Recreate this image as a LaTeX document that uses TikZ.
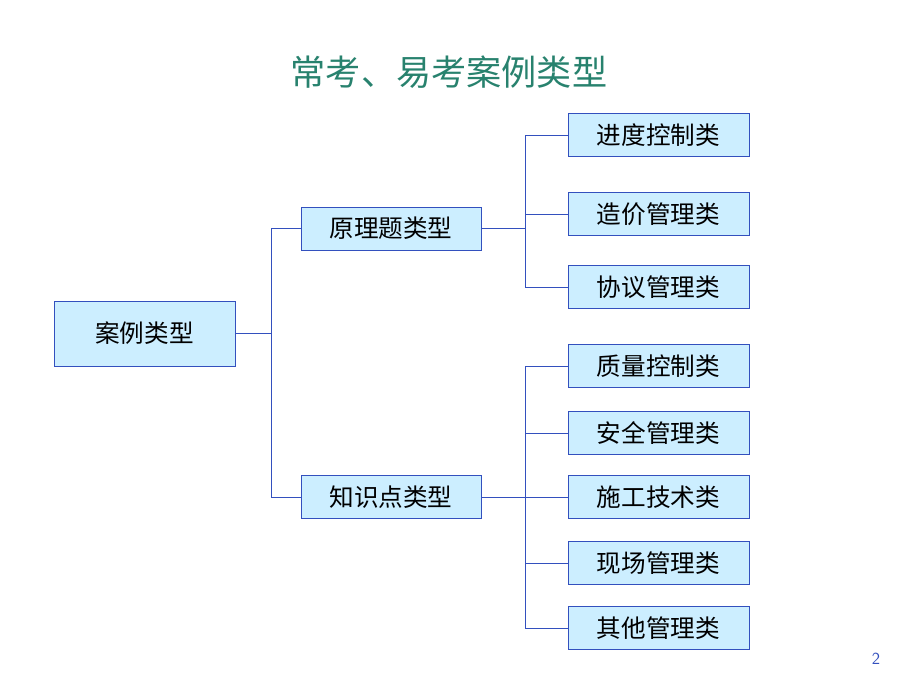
\documentclass[tikz,border=0pt]{standalone}
\usepackage{fontspec}
\setmainfont{Noto Sans CJK SC}
\definecolor{boxfill}{RGB}{204,238,255}
\definecolor{boxline}{RGB}{51,80,190}
\definecolor{titlegreen}{RGB}{40,130,110}
\usetikzlibrary{positioning}
\tikzset{
  leaf/.style={draw=boxline, fill=boxfill, rectangle, minimum width=4.525cm, minimum height=1.075cm, font=\fontsize{17.5}{20}\selectfont},
  link/.style={draw=boxline, thin}
}
\begin{document}
\begin{tikzpicture}[x=0.025cm, y=-0.025cm]
            \useasboundingbox (0,0) rectangle (920,690);
            \fill[white] (0,0) rectangle (920,690);
            % title
            \node[text=titlegreen, font=\fontsize{25}{28}\selectfont] (title) at (449,72) {常考、易考案例类型};
            \node[text=boxline, font=\fontsize{12}{14}\selectfont\sffamily] (page) at (876,659) {2};

            % root and middle level
            \node[leaf, minimum height=1.625cm] (root) at (144.5,333.5) {案例类型};
            \node[leaf, minimum width=4.5cm] (yl) at (391,228.5) {原理题类型};
            \node[leaf, minimum width=4.5cm] (zs) at (391,497) {知识点类型};

            % right column
            \node[leaf] (c1) at (658.5,135) {进度控制类};
            \node[leaf] (c2) at (658.5,214) {造价管理类};
            \node[leaf] (c3) at (658.5,287) {协议管理类};
            \node[leaf] (d1) at (658.5,366) {质量控制类};
            \node[leaf] (d2) at (658.5,433) {安全管理类};
            \node[leaf] (d3) at (658.5,497) {施工技术类};
            \node[leaf] (d4) at (658.5,563) {现场管理类};
            \node[leaf] (d5) at (658.5,628) {其他管理类};

            % branch points
            \coordinate (b1) at (271,333.5);
            \coordinate (b2) at (525,228.5);
            \coordinate (b3) at (525,497);

            % connectors
            \draw[link] (root.east) -- (b1) |- (yl.west);
            \draw[link] (b1) |- (zs.west);
            \draw[link] (yl.east) -- (b2);
            \foreach \n in {c1,c2,c3} \draw[link] (b2) |- (\n.west);
            \draw[link] (zs.east) -- (b3);
            \foreach \n in {d1,d2,d3,d4,d5} \draw[link] (b3) |- (\n.west);
\end{tikzpicture}
\end{document}
